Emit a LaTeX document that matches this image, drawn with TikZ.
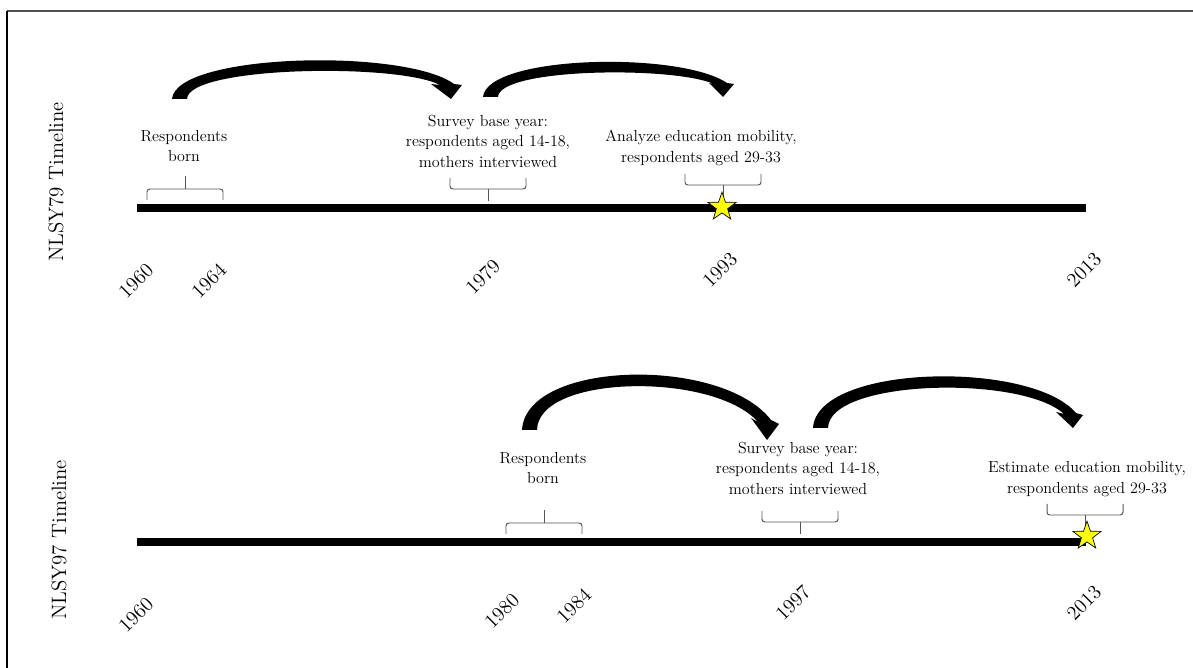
\documentclass[tikz,border=0pt]{standalone}
\usepackage{xcolor}
\usetikzlibrary{positioning, shapes.geometric}
\definecolor{staryellow}{RGB}{255, 255, 0}
\definecolor{bracegray}{RGB}{85, 85, 85}
\definecolor{framegray}{RGB}{80, 80, 80}

\begin{document}
\begin{tikzpicture}[
    x=0.025cm, y=-0.025cm,
    % Styles definition
    timeline/.style={draw=black, line width=5pt},
    event/.style={align=center, inner sep=0pt, font=\fontsize{11.4}{14.6}\selectfont},
    year/.style={rotate=45, inner sep=0pt, font=\fontsize{14.3}{16}\selectfont},
    side/.style={rotate=90, inner sep=0pt, font=\fontsize{14.8}{17}\selectfont},
    bracket/.style={draw=bracegray, line width=0.7pt, rounded corners=2pt},
    marker/.style={star, star points=5, star point ratio=2.5, fill=staryellow, draw=black, line width=0.5pt, minimum size=0.74cm, inner sep=0pt},
    bigarrow/.style={fill=black},
    tickup/.pic={\draw[bracket] (-38,11) -- (-38,0) -- (38,0) -- (38,11); \draw[bracket] (0,0) -- (0,-13);},
    tickdown/.pic={\draw[bracket] (-38,-11) -- (-38,0) -- (38,0) -- (38,-11); \draw[bracket] (0,0) -- (0,12);}
]
\useasboundingbox (0,0) rectangle (1193,668);

% frame
\draw[framegray, line width=0.9pt] (7,11) -- (1193,11);
\draw[black, line width=0.9pt] (7,11) -- (7,668);

% 1. NLSY79 timeline
\node[side] (side79) at (56,182) {NLSY79 Timeline};
\coordinate (t79start) at (137,208);
\coordinate (t79end) at (1086,208);
\draw[timeline] (t79start) -- (t79end);

\node[year] (y79a) at (136,281) {1960};
\node[year] (y79b) at (209,281) {1964};
\node[year] (y79c) at (483,277) {1979};
\node[year] (y79d) at (720,270) {1993};
\node[year] (y79e) at (1084,270) {2013};

\node[event] (born79) at (184,146) {Respondents\\born};
\node[event] (survey79) at (488,141) {Survey base year:\\respondents aged 14-18,\\mothers interviewed};
\node[event] (analyze79) at (701,148) {Analyze education mobility,\\respondents aged 29-33};

\pic at (185,189) {tickup};
\pic at (488,189) {tickdown};
\pic at (723,185) {tickdown};

\node[marker] (star79) at (722,207) {};

% curved arrows
\fill[bigarrow] (172,99) .. controls (176,53) and (405,48) .. (454,84) -- (462,85) -- (451,99) -- (431,84) -- (440,85)
    .. controls (398,63) and (188,66) .. (187,99) -- cycle;
\fill[bigarrow] (483,97) .. controls (487,55) and (680,51) .. (727,83) -- (734,84) -- (723,97) -- (709,83) -- (714,84)
    .. controls (673,66) and (499,68) .. (498,97) -- cycle;

% 2. NLSY97 timeline
\node[side] (side97) at (59,540) {NLSY97 Timeline};
\coordinate (t97start) at (137,542);
\coordinate (t97end) at (1086,542);
\draw[timeline] (t97start) -- (t97end);

\node[year] (y97a) at (136,615) {1960};
\node[year] (y97b) at (502,611) {1980};
\node[year] (y97c) at (574,606) {1984};
\node[year] (y97d) at (793,603) {1997};
\node[year] (y97e) at (1084,603) {2013};

\node[event] (born97) at (543,468) {Respondents\\born};
\node[event] (survey97) at (798,468) {Survey base year:\\respondents aged 14-18,\\mothers interviewed};
\node[event] (estimate97) at (1087,479) {Estimate education mobility,\\respondents aged 29-33};

\pic at (544,523) {tickup};
\pic at (800,522) {tickdown};
\pic at (1085,515) {tickdown};

\node[marker] (star97) at (1087,536) {};

% curved arrows
\fill[bigarrow] (522,430) .. controls (526,360) and (722,356) .. (771,420) -- (779,424) -- (767,440) -- (751,418) -- (758,422)
    .. controls (714,372) and (538,374) .. (537,430) -- cycle;
\fill[bigarrow] (813,428) .. controls (817,364) and (1031,360) .. (1076,413) -- (1083,415) -- (1073,428) -- (1056,412) -- (1064,414)
    .. controls (1022,375) and (829,379) .. (828,428) -- cycle;

\end{tikzpicture}
\end{document}
